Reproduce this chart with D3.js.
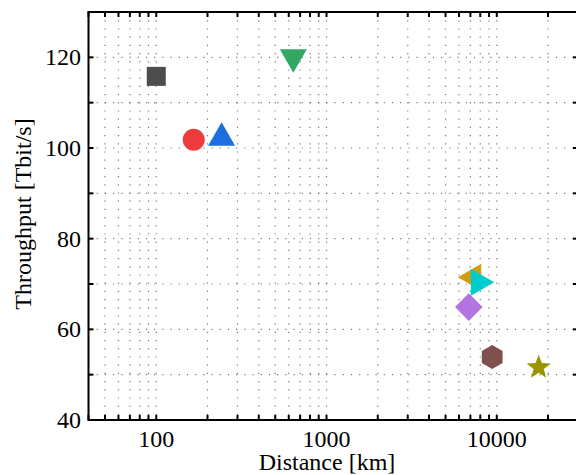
<!DOCTYPE html>
<html>
<head>
<meta charset="utf-8">
<script src="https://cdn.jsdelivr.net/npm/d3@7"></script>
<style>
  body { margin: 0; background: #fff; }
  svg { display: block; }
  text { font-family: "Liberation Serif", "Times New Roman", serif; fill: #000; }
</style>
</head>
<body>
<div id="chart"></div>
<script>
// data
const systems = ['A', 'B', 'C', 'D', 'E', 'F', 'G', 'H', 'I'];
const distances = [100, 166, 242, 638, 6920, 8250, 6850, 9400, 17630];
const throughputs = [115.8, 101.8, 103.1, 119.2, 71.5, 70.4, 64.9, 53.9, 51.6];
const markerColors = ['#4d4d4d', '#ef3b3e', '#1b6fdf', '#33a865', '#d09e10', '#00cccc', '#b374df', '#7f5050', '#9a9400'];
const markerShapes = ['square', 'circle', 'up', 'down', 'left', 'right', 'diamond', 'hexagon', 'star'];
const xTickLabels = [100, 1000, 10000];
const yTickLabels = [40, 60, 80, 100, 120];

const width = 576, height = 475;
const margin = {left: 88.5, top: 12, right: 578, bottom: 420};

const x = d3.scaleLog().domain([40, 30000]).range([margin.left, margin.right]);
const y = d3.scaleLinear().domain([40, 130]).range([margin.bottom, margin.top]);

const svg = d3.select('#chart').append('svg')
    .attr('width', width)
    .attr('height', height);

// every log tick 40..30000 and every 10 on y
const xGrid = x.ticks().filter(d => d >= 40 && d <= 30000);
const yGrid = d3.range(50, 130, 10);

// grid
svg.append('g').selectAll('line')
    .data(xGrid)
    .join('line')
    .attr('x1', d => x(d)).attr('x2', d => x(d))
    .attr('y1', margin.top).attr('y2', margin.bottom)
    .attr('stroke', '#777')
    .attr('stroke-width', 1.2)
    .attr('stroke-dasharray', '1.2,7');

svg.append('g').selectAll('line')
    .data(yGrid)
    .join('line')
    .attr('x1', margin.left).attr('x2', margin.right)
    .attr('y1', d => y(d)).attr('y2', d => y(d))
    .attr('stroke', '#777')
    .attr('stroke-width', 1.2)
    .attr('stroke-dasharray', '1.2,7');

// inward ticks on all four sides
const tickLen = 5;
const ticks = svg.append('g').attr('stroke', '#000').attr('stroke-width', 2);
xGrid.forEach(d => {
    ticks.append('line').attr('x1', x(d)).attr('x2', x(d))
        .attr('y1', margin.bottom).attr('y2', margin.bottom - tickLen);
    ticks.append('line').attr('x1', x(d)).attr('x2', x(d))
        .attr('y1', margin.top).attr('y2', margin.top + tickLen);
});
yGrid.forEach(d => {
    ticks.append('line').attr('x1', margin.left).attr('x2', margin.left + tickLen)
        .attr('y1', y(d)).attr('y2', y(d));
    ticks.append('line').attr('x1', margin.right).attr('x2', margin.right - tickLen)
        .attr('y1', y(d)).attr('y2', y(d));
});

// frame
svg.append('rect')
    .attr('x', margin.left).attr('y', margin.top)
    .attr('width', margin.right - margin.left)
    .attr('height', margin.bottom - margin.top)
    .attr('fill', 'none')
    .attr('stroke', '#000')
    .attr('stroke-width', 2);

// tick labels
svg.append('g').selectAll('text')
    .data(xTickLabels)
    .join('text')
    .attr('x', d => x(d))
    .attr('y', 447)
    .attr('text-anchor', 'middle')
    .style('font-size', '24px')
    .text(d => d);

svg.append('g').selectAll('text')
    .data(yTickLabels)
    .join('text')
    .attr('x', 81)
    .attr('y', d => y(d) + 8)
    .attr('text-anchor', 'end')
    .style('font-size', '24px')
    .text(d => d);

// axis titles
svg.append('text')
    .attr('x', 327)
    .attr('y', 470)
    .attr('text-anchor', 'middle')
    .style('font-size', '24px')
    .text('Distance [km]');

svg.append('text')
    .attr('transform', 'translate(31, 214) rotate(-90)')
    .attr('text-anchor', 'middle')
    .style('font-size', '24px')
    .text('Throughput [Tbit/s]');

/**
 * Marker shapes, size = bounding box in px.
 */
function triangle(dir) {
    return {
        draw(ctx, s) {
            const w = s / 2, h = s * 0.866 / 2;
            const pts = {
                up: [[0, -h], [w, h], [-w, h]],
                down: [[0, h], [w, -h], [-w, -h]],
                left: [[-h, 0], [h, -w], [h, w]],
                right: [[h, 0], [-h, -w], [-h, w]]
            }[dir];
            ctx.moveTo(pts[0][0], pts[0][1]);
            ctx.lineTo(pts[1][0], pts[1][1]);
            ctx.lineTo(pts[2][0], pts[2][1]);
            ctx.closePath();
        }
    };
}

const shapeTypes = {
    square: {draw(ctx, s) { ctx.rect(-s / 2, -s / 2, s, s); }},
    circle: {draw(ctx, s) { ctx.moveTo(s / 2, 0); ctx.arc(0, 0, s / 2, 0, 2 * Math.PI); }},
    up: triangle('up'),
    down: triangle('down'),
    left: triangle('left'),
    right: triangle('right'),
    diamond: {draw(ctx, s) {
        const r = s / 2;
        ctx.moveTo(0, -r); ctx.lineTo(r, 0); ctx.lineTo(0, r); ctx.lineTo(-r, 0); ctx.closePath();
    }},
    hexagon: {draw(ctx, s) {
        const r = s / 2;
        for (let i = 0; i < 6; i++) {
            const a = -Math.PI / 2 + i * Math.PI / 3;
            if (i === 0) ctx.moveTo(r * Math.cos(a), r * Math.sin(a));
            else ctx.lineTo(r * Math.cos(a), r * Math.sin(a));
        }
        ctx.closePath();
    }},
    star: {draw(ctx, s) {
        const r = s / 2, ri = r * 0.42;
        for (let i = 0; i < 10; i++) {
            const a = -Math.PI / 2 + i * Math.PI / 5;
            const rr = i % 2 ? ri : r;
            if (i === 0) ctx.moveTo(rr * Math.cos(a), rr * Math.sin(a));
            else ctx.lineTo(rr * Math.cos(a), rr * Math.sin(a));
        }
        ctx.closePath();
    }}
};

const shapeSize = {
    square: 19, circle: 22, up: 27, down: 27, left: 27, right: 27,
    diamond: 27.6, hexagon: 24, star: 25.5
};

svg.append('g').selectAll('path')
    .data(systems)
    .join('path')
    .attr('transform', (d, i) => `translate(${x(distances[i])}, ${y(throughputs[i])})`)
    .attr('d', (d, i) => d3.symbol()
        .type(shapeTypes[markerShapes[i]])
        .size(shapeSize[markerShapes[i]])())
    .attr('fill', (d, i) => markerColors[i]);
</script>
</body>
</html>
